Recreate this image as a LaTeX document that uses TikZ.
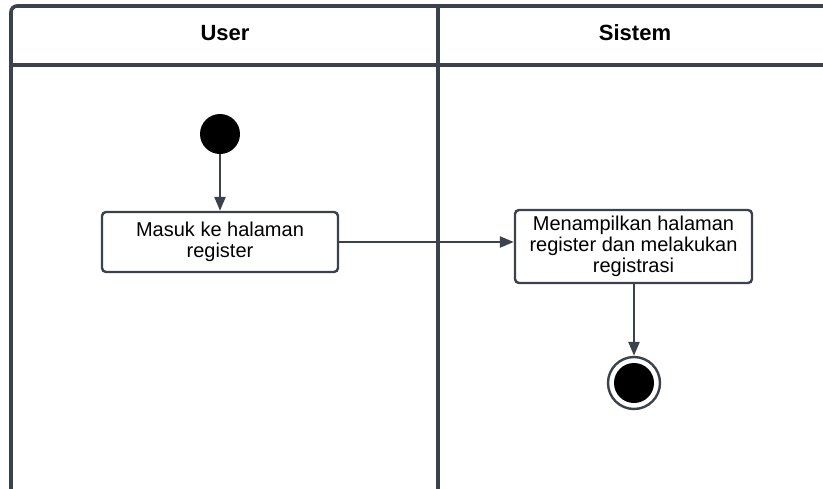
\documentclass[tikz,border=0pt]{standalone}
\usepackage{fontspec}
\setmainfont{Liberation Sans}
\usetikzlibrary{arrows.meta}
\definecolor{lane}{HTML}{3B424B}
\begin{document}
\begin{tikzpicture}[x=1pt,y=-1pt,
  laneline/.style={draw=lane,line width=3.6pt},
  header/.style={font=\fontsize{22}{24}\selectfont\bfseries,anchor=center},
  action/.style={draw=lane,line width=2.4pt,rounded corners=4pt,fill=white,
    align=center,inner sep=0pt,font=\fontsize{20}{21}\selectfont},
  flow/.style={draw=lane,line width=2.4pt,-{Triangle[length=14pt,width=11pt]}},
  initial/.style={circle,fill=black,minimum size=40pt,inner sep=0pt},
  final/.style={circle,draw=lane,line width=2.4pt,fill=white,minimum size=52pt,inner sep=0pt}]
\useasboundingbox (0,0) rectangle (823,488);
% swimlane frame
\draw[laneline,rounded corners=6pt] (11,500) -- (11,6) -- (830,6);
\draw[laneline] (11,65) -- (830,65);
\draw[laneline] (438,6) -- (438,500);
\node[header] (userhead) at (225,33) {User};
\node[header] (sistemhead) at (635,33) {Sistem};
% activity nodes
\node[initial] (start) at (220,134) {};
\node[action,minimum width=236pt,minimum height=60pt] (masuk) at (220,242)
  {Masuk ke halaman\\register};
\node[action,minimum width=237pt,minimum height=73pt] (tampil) at (633.5,246.5)
  {Menampilkan halaman\\register dan melakukan\\registrasi};
\node[final] (end) at (634,383) {};
\fill[black] (end.center) circle[radius=20pt];
% transitions
\draw[flow] (start) -- (masuk);
\draw[flow] (masuk.east) -- (masuk.east -| tampil.west);
\draw[flow] (tampil.south -| end.north) -- (end.north);
\end{tikzpicture}
\end{document}
